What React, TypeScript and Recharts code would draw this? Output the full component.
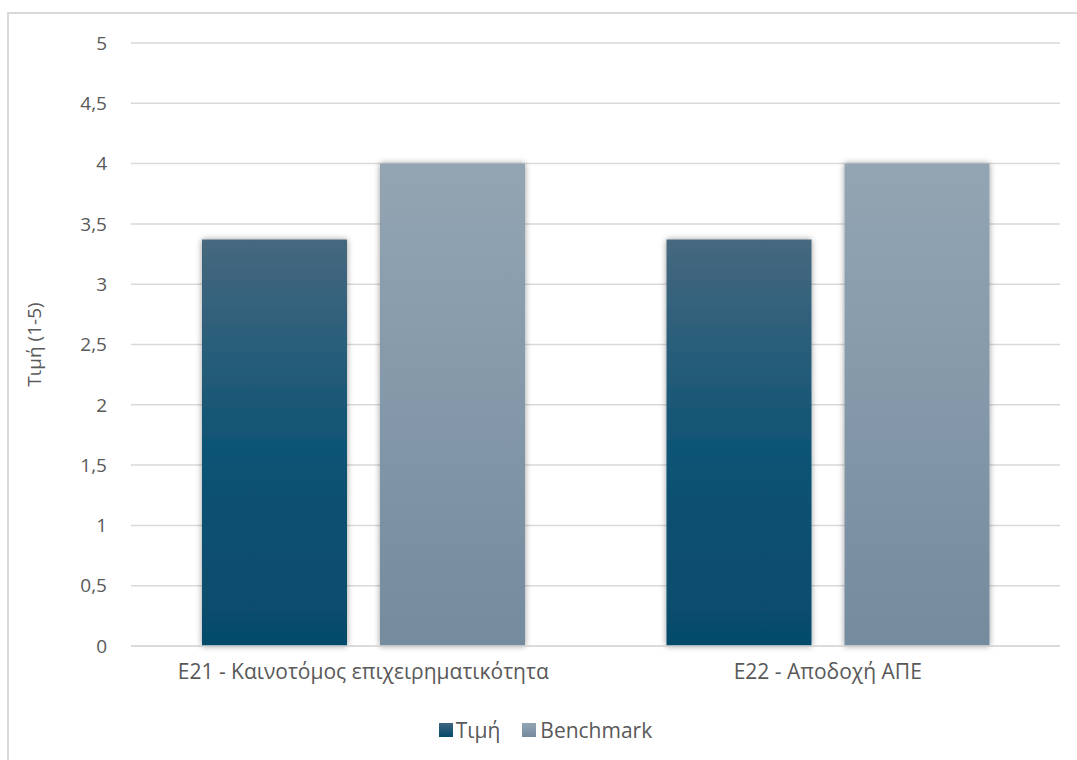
import React from "react";
import { BarChart, Bar, XAxis, YAxis, CartesianGrid, Legend } from "recharts";

const categories = ["E21 - Καινοτόμος επιχειρηματικότητα", "E22 - Αποδοχή ΑΠΕ"];
const valueSeries = [3.37, 3.37];
const benchmarkSeries = [4, 4];
const yTicks = [0, 0.5, 1, 1.5, 2, 2.5, 3, 3.5, 4, 4.5, 5];

const data = categories.map((name, i) => ({
  name,
  value: valueSeries[i],
  benchmark: benchmarkSeries[i],
}));

const FONT = "'Open Sans', 'Noto Sans', sans-serif";
const TEXT = "#595959";

const fmt = (v: number) => String(v).replace(".", ",");

const LegendContent = () => (
  <div
    style={{
      display: "flex",
      justifyContent: "center",
      alignItems: "center",
      fontFamily: FONT,
      fontSize: 21,
      color: TEXT,
      paddingLeft: 14,
    }}
  >
    <span style={{ display: "inline-block", width: 14, height: 14, background: "linear-gradient(#3f6580, #054a6b)", marginRight: 3 }} />
    <span style={{ marginRight: 22 }}>Τιμή</span>
    <span style={{ display: "inline-block", width: 14, height: 14, background: "linear-gradient(#93a5b3, #748b9e)", marginRight: 4 }} />
    <span>Benchmark</span>
  </div>
);

const YLabel = (props: any) => {
  const vb = props.viewBox || { x: 0, y: 0, width: 0, height: 0 };
  const cx = vb.x + 34;
  const cy = vb.y + vb.height / 2;
  return (
    <text
      x={cx}
      y={cy}
      transform={`rotate(-90 ${cx} ${cy})`}
      textAnchor="middle"
      dominantBaseline="central"
      fill={TEXT}
      fontSize={19}
      fontFamily={FONT}
    >
      Τιμή (1-5)
    </text>
  );
};

export default function App() {
  return (
    <div style={{ position: "fixed", left: 0, top: 0, width: 1077, height: 760, overflow: "hidden", background: "#fff" }}>
      <div
        style={{
          position: "absolute",
          left: 7,
          top: 12,
          width: 1200,
          height: 900,
          border: "2px solid #d9d9d9",
          boxSizing: "border-box",
        }}
      />
      <div style={{ position: "absolute", left: 0, top: 0 }}>
        <BarChart
          width={1077}
          height={760}
          data={data}
          margin={{ top: 43, right: 17, left: 0, bottom: 64 }}
          barSize={145}
          barGap={33}
        >
          <defs>
            <linearGradient id="gValue" x1="0" y1="0" x2="0" y2="1">
              <stop offset="0%" stopColor="#46687f" />
              <stop offset="55%" stopColor="#0b5273" />
              <stop offset="100%" stopColor="#064b6b" />
            </linearGradient>
            <linearGradient id="gBench" x1="0" y1="0" x2="0" y2="1">
              <stop offset="0%" stopColor="#93a5b3" />
              <stop offset="100%" stopColor="#748b9e" />
            </linearGradient>
            <filter id="barShadow" x="-10%" y="-10%" width="120%" height="120%">
              <feDropShadow dx="0" dy="0" stdDeviation="3" floodColor="#000" floodOpacity="0.4" />
            </filter>
          </defs>
          <CartesianGrid vertical={false} stroke="#d9d9d9" strokeWidth={1.5} />
          <XAxis
            dataKey="name"
            height={50}
            axisLine={{ stroke: "#d9d9d9", strokeWidth: 1.5 }}
            tickLine={false}
            tickSize={0}
            tickMargin={18}
            tick={{ fill: TEXT, fontSize: 21, fontFamily: FONT }}
          />
          <YAxis
            width={131}
            domain={[0, 5]}
            ticks={yTicks}
            interval={0}
            axisLine={false}
            tickLine={false}
            tickSize={0}
            tickMargin={24}
            tickFormatter={fmt}
            tick={{ fill: TEXT, fontSize: 19, fontFamily: FONT }}
            label={<YLabel />}
          />
          <Legend
            verticalAlign="middle"
            align="center"
            layout="horizontal"
            wrapperStyle={{ top: 716, left: 0, width: 1077 }}
            content={<LegendContent />}
          />
          <Bar dataKey="value" name="Τιμή" fill="url(#gValue)" filter="url(#barShadow)" isAnimationActive={false} />
          <Bar dataKey="benchmark" name="Benchmark" fill="url(#gBench)" filter="url(#barShadow)" isAnimationActive={false} />
        </BarChart>
      </div>
    </div>
  );
}
